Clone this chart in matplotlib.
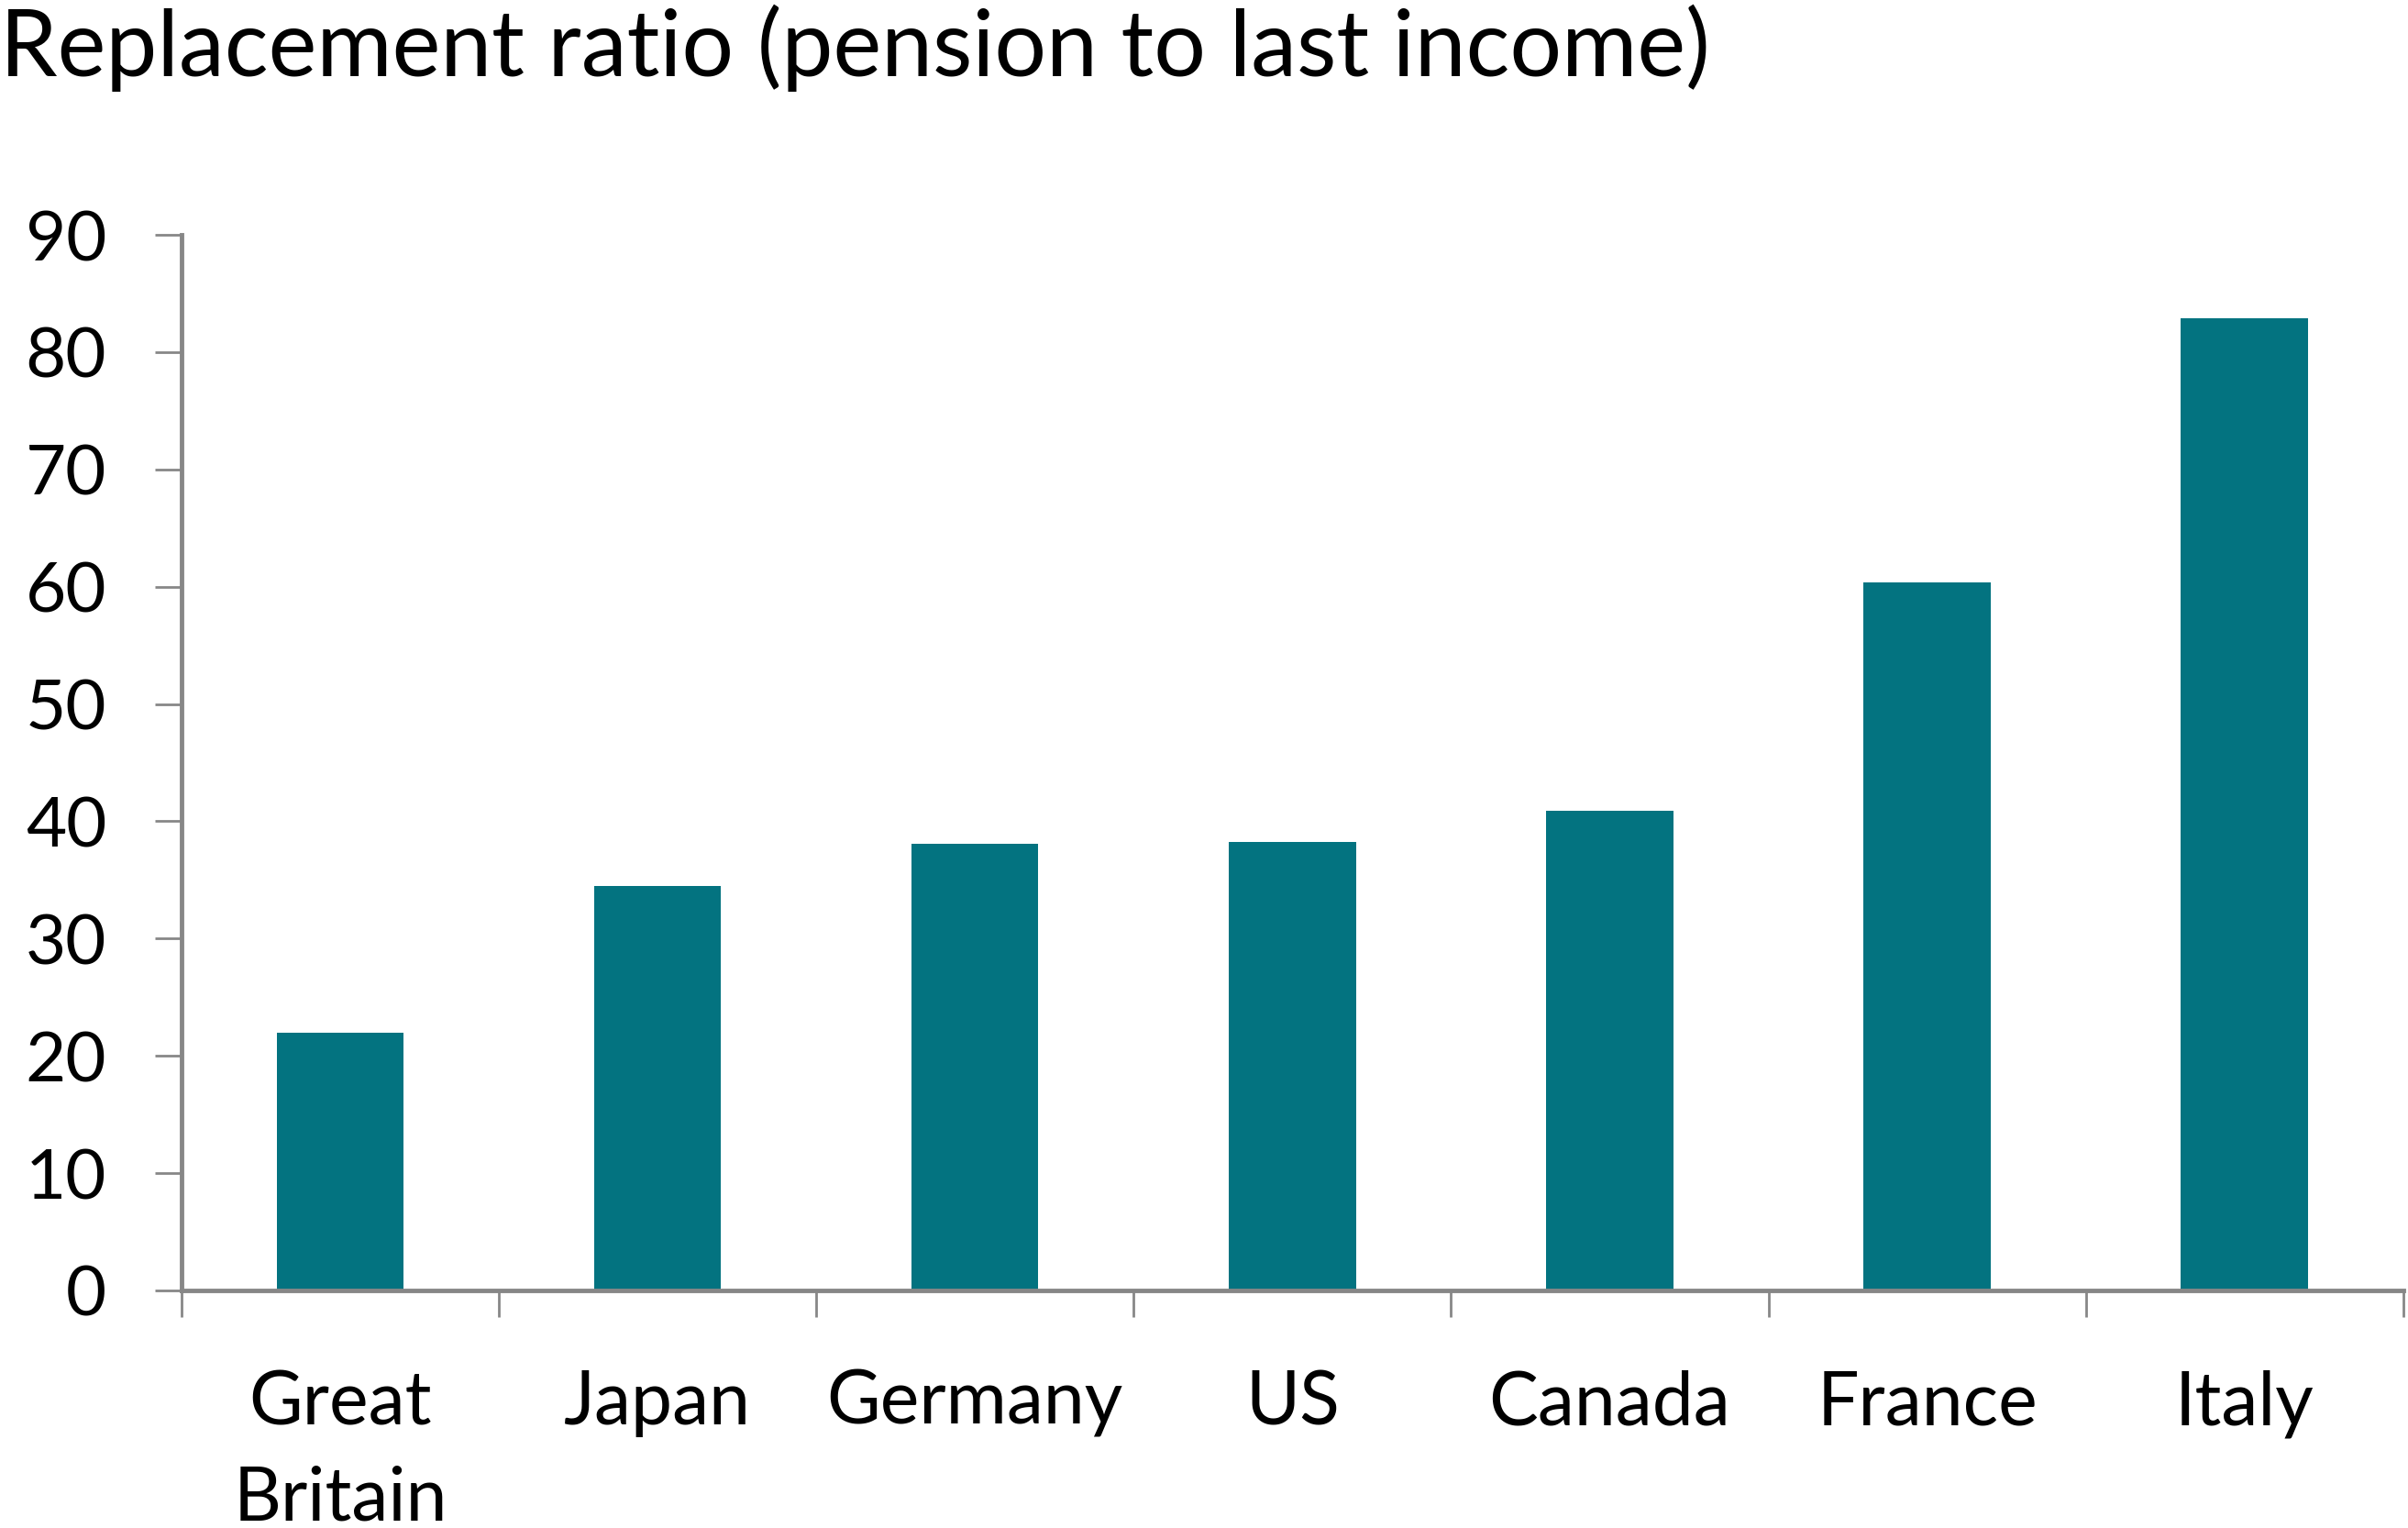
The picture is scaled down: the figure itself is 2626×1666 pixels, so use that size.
import matplotlib
matplotlib.use("Agg")
import matplotlib.pyplot as plt

categories = ["Great\nBritain", "Japan", "Germany", "US", "Canada", "France", "Italy"]
values = [22.0, 34.5, 38.1, 38.2, 40.9, 60.4, 82.9]
yticks = [0, 10, 20, 30, 40, 50, 60, 70, 80, 90]
title = "Replacement ratio (pension to last income)"

plt.rcParams['font.family'] = ['Lato', 'DejaVu Sans']

bar_color = "#037380"
axis_color = "#878787"

fig = plt.figure(figsize=(26.26, 16.66), dpi=100)
ax = fig.add_axes([0.0754, 0.1555, 0.998 - 0.0754, 0.8463 - 0.1555])

x = list(range(len(categories)))
ax.bar(x, values, width=0.4, color=bar_color, zorder=2)

ax.set_xlim(-0.5, len(categories) - 0.5)
ax.set_ylim(0, 90)
ax.set_yticks(yticks)
ax.set_yticklabels([str(t) for t in yticks], fontsize=55)

# Category labels at centers, tick marks at boundaries
ax.set_xticks([i - 0.5 for i in range(len(categories) + 1)])
ax.set_xticklabels([])
ax.set_xticks(x, minor=True)
ax.set_xticklabels(categories, minor=True, fontsize=58, linespacing=1.5, va="top")
ax.tick_params(axis="x", which="minor", length=0, pad=62)
ax.tick_params(axis="x", which="major", length=21, width=2.0, color=axis_color)
ax.tick_params(axis="y", length=21, width=2.0, color=axis_color, pad=38, labelsize=55)

for s in ["top", "right"]:
    ax.spines[s].set_visible(False)
for s in ["left", "bottom"]:
    ax.spines[s].set_color(axis_color)
    ax.spines[s].set_linewidth(3.5)

fig.text(0.0, 0.997, title, fontsize=72, ha="left", va="top")

fig.savefig("out.png", dpi=100, facecolor="white")
